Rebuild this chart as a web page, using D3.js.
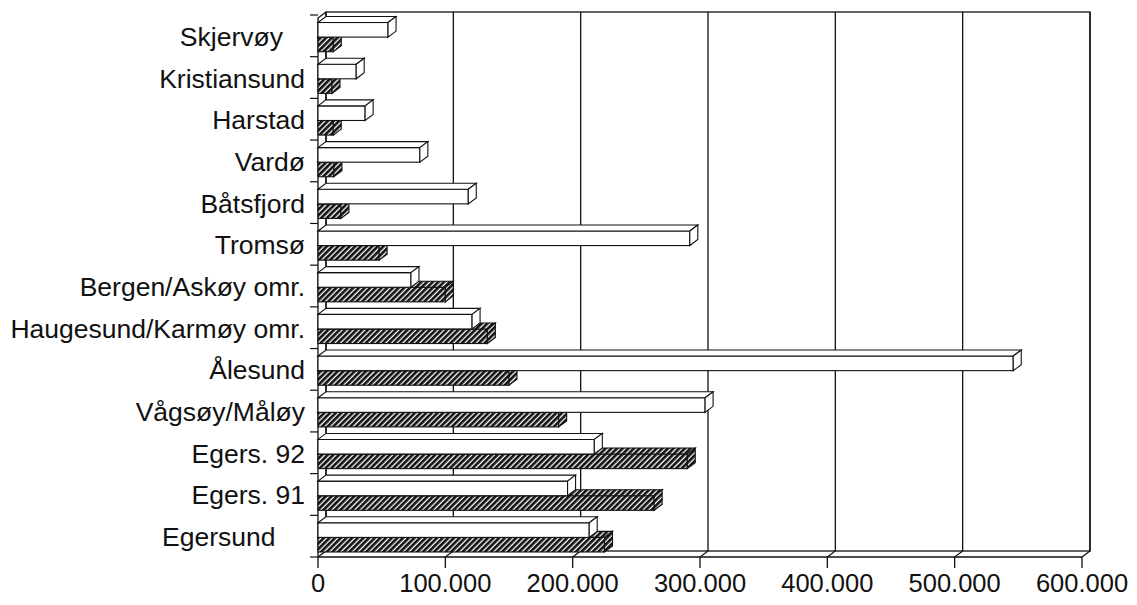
<!DOCTYPE html>
<html>
<head>
<meta charset="utf-8">
<script src="https://cdn.jsdelivr.net/npm/d3@7"></script>
<style>
  body { margin: 0; background: #fff; }
  text { font-family: "Liberation Sans", Arial, sans-serif; fill: #111; }
</style>
</head>
<body>
<div id="chart"></div>
<script>
// categories top to bottom, as in the picture
var categories = ["Skjervøy\u00a0\u00a0\u00a0", "Kristiansund", "Harstad", "Vardø", "Båtsfjord", "Tromsø",
  "Bergen/Askøy omr.", "Haugesund/Karmøy omr.", "Ålesund", "Vågsøy/Måløy",
  "Egers. 92", "Egers. 91", "Egersund\u00a0\u00a0\u00a0\u00a0"];
var whiteValues = [55000, 30000, 37000, 80000, 118000, 292000, 73000, 121000, 546000, 304000, 217000, 196000, 213000];
var hatchValues = [12000, 11000, 12000, 12500, 18000, 48000, 100000, 133000, 150000, 189000, 290000, 264000, 225000];
var xTicks = [0, 100000, 200000, 300000, 400000, 500000, 600000];

var width = 1137, height = 605;
var dx = 8, dy = -6;          // depth offset of the 3d look
var floorY = 557, topY = 12;

var fmt = d3.formatLocale({decimal: ",", thousands: ".", grouping: [3], currency: ["", ""]}).format(",");

var x = d3.scaleLinear().domain([0, 600000]).range([318, 1082]);
var y = d3.scaleBand().domain(categories).range([15, 557]).padding(0);

var svg = d3.select('#chart')
  .append('svg')
  .attr('width', width)
  .attr('height', height);

var defs = svg.append('defs');
var pat = defs.append('pattern')
  .attr('id', 'hatch')
  .attr('patternUnits', 'userSpaceOnUse')
  .attr('width', 4)
  .attr('height', 4)
  .attr('patternTransform', 'rotate(45)');
pat.append('rect')
  .attr('width', 4).attr('height', 4)
  .attr('fill', '#fff');
pat.append('rect')
  .attr('x', 0).attr('y', 0)
  .attr('width', 2.7).attr('height', 4)
  .attr('fill', '#111');

var ink = '#111';

// back wall
svg.append('rect')
  .attr('x', x(0) + dx)
  .attr('y', topY)
  .attr('width', x(600000) - x(0))
  .attr('height', floorY + dy - topY)
  .attr('fill', 'none')
  .attr('stroke', ink)
  .attr('stroke-width', 1.3);

// gridlines on back wall, down the floor and ticks
xTicks.forEach(function(t){
  var path = d3.path();
  path.moveTo(x(t) + dx, topY);
  path.lineTo(x(t) + dx, floorY + dy);
  path.lineTo(x(t), floorY);
  path.lineTo(x(t), floorY + 11);
  svg.append('path')
    .attr('d', path.toString())
    .attr('fill', 'none')
    .attr('stroke', ink)
    .attr('stroke-width', 1.3);
});

// floor front edge and left wall
svg.append('path')
  .attr('d', 'M' + x(0) + ',' + floorY + 'H' + x(600000) +
             'M' + x(0) + ',' + floorY + 'V' + (topY - dy) + 'L' + (x(0) + dx) + ',' + topY)
  .attr('fill', 'none')
  .attr('stroke', ink)
  .attr('stroke-width', 1.3);

// category ticks on the left
var bounds = categories.map(function(c){ return y(c); }).concat([y.range()[1]]);
svg.selectAll('line.ytick')
  .data(bounds)
  .enter()
  .append('line')
  .attr('class', 'ytick')
  .attr('x1', x(0) - 8).attr('x2', x(0))
  .attr('y1', function(d){ return d; })
  .attr('y2', function(d){ return d; })
  .attr('stroke', ink)
  .attr('stroke-width', 1.2);

// 3d bar made of front, top and side faces
function bar(g, v, top, h, fill){
  var x0 = x(0), x1 = x(v);
  g.append('rect')
    .attr('x', x0).attr('y', top)
    .attr('width', x1 - x0).attr('height', h)
    .attr('fill', fill).attr('stroke', ink).attr('stroke-width', 1.1);
  g.append('polygon')
    .attr('points', [[x0, top], [x1, top], [x1 + dx, top + dy], [x0 + dx, top + dy]].join(' '))
    .attr('fill', fill).attr('stroke', ink).attr('stroke-width', 1.1);
  g.append('polygon')
    .attr('points', [[x1, top], [x1 + dx, top + dy], [x1 + dx, top + h + dy], [x1, top + h]].join(' '))
    .attr('fill', fill).attr('stroke', ink).attr('stroke-width', 1.1);
}

var bh = y.bandwidth() * 0.35;
// draw from the bottom up so the upper bars cover the lower top faces
var order = d3.range(categories.length).reverse();
order.forEach(function(i){
  var c = categories[i];
  var mid = y(c) + y.bandwidth() * 0.53;
  var g = svg.append('g');
  bar(g, hatchValues[i], mid, bh, 'url(#hatch)');
  bar(g, whiteValues[i], mid - bh, bh, '#fff');
});

// category labels
svg.selectAll('text.cat')
  .data(categories)
  .enter()
  .append('text')
  .attr('class', 'cat')
  .attr('x', 305)
  .attr('y', function(d){ return y(d) + y.bandwidth() / 2 + 1; })
  .attr('text-anchor', 'end')
  .attr('dominant-baseline', 'central')
  .style('font-size', '26.5px')
  .text(function(d){ return d; });

// value labels
svg.selectAll('text.val')
  .data(xTicks)
  .enter()
  .append('text')
  .attr('class', 'val')
  .attr('x', function(d){ return x(d); })
  .attr('y', 592)
  .attr('text-anchor', 'middle')
  .style('font-size', '25.5px')
  .text(function(d){ return fmt(d); });
</script>
</body>
</html>
